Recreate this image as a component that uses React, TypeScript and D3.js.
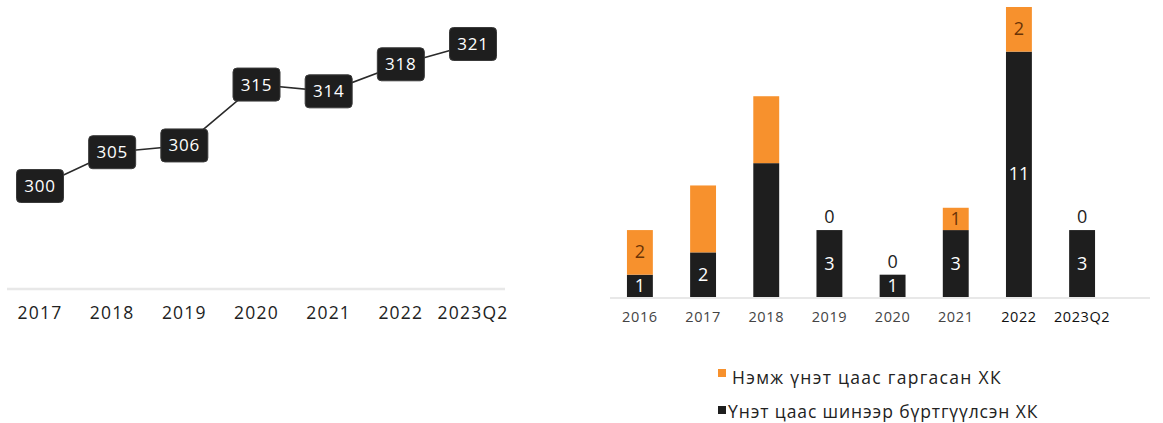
import React from "react";
import * as d3 from "d3";

const lineCats = ["2017", "2018", "2019", "2020", "2021", "2022", "2023Q2"];
const lineValues = [300, 305, 306, 315, 314, 318, 321];

const barCats = ["2016", "2017", "2018", "2019", "2020", "2021", "2022", "2023Q2"];
const newListed = [1, 2, 6, 3, 1, 3, 11, 3];
const additional = [2, 3, 3, 0, 0, 1, 2, 0];
const newListedLabels = ["1", "2", "", "3", "1", "3", "11", "3"];
const additionalLabels = ["2", "", "", "0", "0", "1", "2", "0"];
const legendLabels = ["Нэмж үнэт цаас гаргасан ХК", "Үнэт цаас шинээр бүртгүүлсэн ХК"];

const FONT = "'Open Sans', 'Noto Sans', sans-serif";
const ORANGE = "#F7912D";
const DARK = "#1e1e1e";

export default function App() {
  // Left line chart
  const lx = d3.scalePoint<string>().domain(lineCats).range([40, 473]);
  const ly = d3.scaleLinear().domain([300, 321]).range([186, 44]);
  const line = d3
    .line<number>()
    .x((_, i) => lx(lineCats[i]) as number)
    .y((d) => ly(d));

  // Right bar chart
  const bx = d3.scaleBand<string>().domain(barCats).range([608, 1114]).paddingInner(0.59).paddingOuter(0.3);
  const by = d3.scaleLinear().domain([0, 13]).range([297, 7]);
  const bw = bx.bandwidth();

  return (
    <svg
      width={1163}
      height={423}
      style={{ position: "absolute", left: 0, top: 0, display: "block", background: "#fff" }}
      fontFamily={FONT}
    >
      {/* Left chart */}
      <line x1={7} x2={505} y1={289} y2={289} stroke="#e8e8e8" strokeWidth={2.5} />
      {lineCats.map((c) => (
        <text key={c} x={lx(c)} y={319} textAnchor="middle" fontSize={17.5} letterSpacing={1.2} fill="#222">
          {c}
        </text>
      ))}
      <path d={line(lineValues) || ""} fill="none" stroke="#2a2a2a" strokeWidth={1.6} />
      {lineValues.map((v, i) => {
        const cx = lx(lineCats[i]) as number;
        const cy = ly(v);
        return (
          <g key={i}>
            <rect x={cx - 23.5} y={cy - 16.5} width={47} height={33} rx={4} fill={DARK} stroke="#3a3a3a" strokeWidth={1} />
            <text x={cx} y={cy + 6} textAnchor="middle" fontSize={17} letterSpacing={0.8} fill="#fff">
              {v}
            </text>
          </g>
        );
      })}

      {/* Right chart */}
      <line x1={610} x2={1150} y1={298} y2={298} stroke="#e8e8e8" strokeWidth={2} />
      {barCats.map((c, i) => {
        const x = bx(c) as number;
        const cx = x + bw / 2;
        const n = newListed[i];
        const a = additional[i];
        const yN = by(n);
        const yA = by(n + a);
        return (
          <g key={c}>
            <rect x={x} y={yN} width={bw} height={by(0) - yN} fill={DARK} />
            {a > 0 && <rect x={x} y={yA} width={bw} height={yN - yA} fill={ORANGE} />}
            {newListedLabels[i] && (
              <text x={cx} y={(yN + by(0)) / 2 + 6} textAnchor="middle" fontSize={18} fill="#fff">
                {newListedLabels[i]}
              </text>
            )}
            {additionalLabels[i] && a > 0 && (
              <text x={cx} y={(yA + yN) / 2 + 6} textAnchor="middle" fontSize={18} fill="#6a3306">
                {additionalLabels[i]}
              </text>
            )}
            {additionalLabels[i] && a === 0 && (
              <text x={cx} y={yN - 7} textAnchor="middle" fontSize={18} fill="#222">
                {additionalLabels[i]}
              </text>
            )}
            <text x={cx} y={322} textAnchor="middle" fontSize={14.5} letterSpacing={0.6} fill={i >= 6 ? "#111" : "#444"}>
              {c}
            </text>
          </g>
        );
      })}

      {/* Legend */}
      <rect x={718} y={369} width={8} height={8} fill={ORANGE} />
      <text x={732} y={384} fontSize={17.5} letterSpacing={1.3} fill="#222">
        {legendLabels[0]}
      </text>
      <rect x={718} y={406} width={8} height={8} fill={DARK} />
      <text x={728} y={418} fontSize={17.5} letterSpacing={0.9} fill="#222">
        {legendLabels[1]}
      </text>
    </svg>
  );
}
